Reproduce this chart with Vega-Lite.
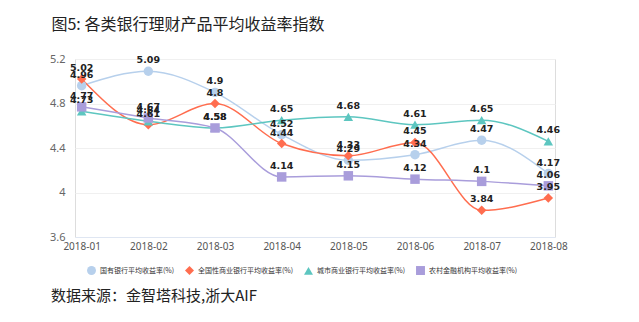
{
  "$schema": "https://vega.github.io/schema/vega-lite/v6.json",
  "background": "white",
  "padding": {"left": 48, "top": 16, "right": 80, "bottom": 4},
  "title": {"text": "数据来源：金智塔科技,浙大AIF", "orient": "bottom", "anchor": "start", "frame": "bounds", "font": "Noto Sans CJK SC", "fontSize": 15, "fontWeight": "normal", "color": "#222", "offset": 2, "dx": 2},
  "data": {"values": [
    {"month": "2018-01", "series": "国有银行平均收益率(%)", "value": 4.96},
    {"month": "2018-02", "series": "国有银行平均收益率(%)", "value": 5.09},
    {"month": "2018-03", "series": "国有银行平均收益率(%)", "value": 4.9},
    {"month": "2018-04", "series": "国有银行平均收益率(%)", "value": 4.52},
    {"month": "2018-05", "series": "国有银行平均收益率(%)", "value": 4.29},
    {"month": "2018-06", "series": "国有银行平均收益率(%)", "value": 4.34},
    {"month": "2018-07", "series": "国有银行平均收益率(%)", "value": 4.47},
    {"month": "2018-08", "series": "国有银行平均收益率(%)", "value": 4.17},
    {"month": "2018-01", "series": "全国性商业银行平均收益率(%)", "value": 5.02},
    {"month": "2018-02", "series": "全国性商业银行平均收益率(%)", "value": 4.61},
    {"month": "2018-03", "series": "全国性商业银行平均收益率(%)", "value": 4.8},
    {"month": "2018-04", "series": "全国性商业银行平均收益率(%)", "value": 4.44},
    {"month": "2018-05", "series": "全国性商业银行平均收益率(%)", "value": 4.33},
    {"month": "2018-06", "series": "全国性商业银行平均收益率(%)", "value": 4.45},
    {"month": "2018-07", "series": "全国性商业银行平均收益率(%)", "value": 3.84},
    {"month": "2018-08", "series": "全国性商业银行平均收益率(%)", "value": 3.95},
    {"month": "2018-01", "series": "城市商业银行平均收益率(%)", "value": 4.73},
    {"month": "2018-02", "series": "城市商业银行平均收益率(%)", "value": 4.64},
    {"month": "2018-03", "series": "城市商业银行平均收益率(%)", "value": 4.58},
    {"month": "2018-04", "series": "城市商业银行平均收益率(%)", "value": 4.65},
    {"month": "2018-05", "series": "城市商业银行平均收益率(%)", "value": 4.68},
    {"month": "2018-06", "series": "城市商业银行平均收益率(%)", "value": 4.61},
    {"month": "2018-07", "series": "城市商业银行平均收益率(%)", "value": 4.65},
    {"month": "2018-08", "series": "城市商业银行平均收益率(%)", "value": 4.46},
    {"month": "2018-01", "series": "农村金融机构平均收益率(%)", "value": 4.77},
    {"month": "2018-02", "series": "农村金融机构平均收益率(%)", "value": 4.67},
    {"month": "2018-03", "series": "农村金融机构平均收益率(%)", "value": 4.58},
    {"month": "2018-04", "series": "农村金融机构平均收益率(%)", "value": 4.14},
    {"month": "2018-05", "series": "农村金融机构平均收益率(%)", "value": 4.15},
    {"month": "2018-06", "series": "农村金融机构平均收益率(%)", "value": 4.12},
    {"month": "2018-07", "series": "农村金融机构平均收益率(%)", "value": 4.1},
    {"month": "2018-08", "series": "农村金融机构平均收益率(%)", "value": 4.06}
  ]},
  "vconcat": [
    {
      "width": 480,
      "height": 178,
      "title": {"text": "图5: 各类银行理财产品平均收益率指数", "anchor": "start", "frame": "bounds", "font": "Noto Sans CJK SC", "fontSize": 16, "fontWeight": "normal", "color": "#222", "offset": 20, "dx": 2},
      "encoding": {
        "x": {"field": "month", "type": "ordinal", "scale": {"type": "point", "padding": 0.1},
          "axis": {"title": null, "labelAngle": 0, "labelFont": "Noto Sans", "labelFontSize": 10, "labelColor": "#555", "ticks": false, "domainColor": "#dfe6f2", "grid": false, "labelPadding": 4}},
        "y": {"field": "value", "type": "quantitative", "scale": {"domain": [3.6, 5.2], "nice": false, "zero": false},
          "axis": {"title": null, "values": [3.6, 4, 4.4, 4.8, 5.2], "format": ".2~f", "labelFont": "Noto Sans", "labelFontSize": 11, "labelColor": "#666", "ticks": false, "domain": false, "gridColor": "#f0f0f0", "labelPadding": 10}}
      },
      "layer": [
        {
          "mark": {"type": "line", "interpolate": "monotone", "strokeWidth": 1.5},
          "encoding": {
            "color": {"field": "series", "type": "nominal", "sort": null,
              "scale": {"domain": ["国有银行平均收益率(%)", "全国性商业银行平均收益率(%)", "城市商业银行平均收益率(%)", "农村金融机构平均收益率(%)"], "range": ["#b7d0ec", "#ff6d4f", "#5dc6c0", "#a99ddb"]},
              "legend": {"title": null, "orient": "bottom", "direction": "horizontal", "labelFont": "Noto Sans CJK SC", "labelFontSize": 7, "labelColor": "#333", "symbolSize": 80, "columnPadding": 10, "offset": 2, "padding": 12, "symbolStrokeWidth": 0, "labelOffset": 4}}
          }
        },
        {
          "mark": {"type": "point", "filled": true, "opacity": 1, "size": 90},
          "encoding": {
            "color": {"field": "series", "type": "nominal", "sort": null},
            "shape": {"field": "series", "type": "nominal", "sort": null,
              "scale": {"domain": ["国有银行平均收益率(%)", "全国性商业银行平均收益率(%)", "城市商业银行平均收益率(%)", "农村金融机构平均收益率(%)"], "range": ["circle", "diamond", "triangle-up", "square"]}}
          }
        },
        {
          "mark": {"type": "text", "dy": -11, "font": "DejaVu Sans", "fontSize": 9.5, "fontWeight": "bold", "color": "#222"},
          "encoding": {"text": {"field": "value", "type": "quantitative"}}
        }
      ]
    }
  ]
}
